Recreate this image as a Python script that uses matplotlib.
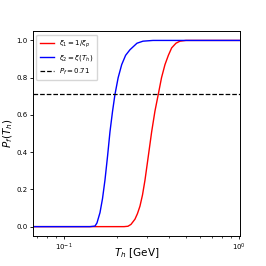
import matplotlib
matplotlib.use("Agg")
import matplotlib.pyplot as plt

# Data
T_blue = [0.0665, 0.1408, 0.1504, 0.1544, 0.1606, 0.1660, 0.1715, 0.1775, 0.1832, 0.1895,
          0.1956, 0.2040, 0.2137, 0.2250, 0.2383, 0.2613, 0.2828, 0.3226, 1.013]
P_blue = [0.0, 0.0, 0.003, 0.02, 0.075, 0.15, 0.25, 0.38, 0.51, 0.62,
          0.71, 0.80, 0.87, 0.92, 0.95, 0.985, 0.996, 1.0, 1.0]

T_red = [0.0665, 0.2203, 0.2321, 0.2415, 0.2545, 0.2630, 0.2718, 0.2810, 0.2904, 0.3035,
         0.3171, 0.3310, 0.3458, 0.3610, 0.3777, 0.3950, 0.4125, 0.4365, 0.4601, 0.4979, 1.013]
P_red = [0.0, 0.0, 0.002, 0.012, 0.04, 0.07, 0.11, 0.17, 0.25, 0.38,
         0.51, 0.62, 0.71, 0.80, 0.87, 0.92, 0.96, 0.985, 0.996, 1.0, 1.0]

P_f = 0.71
labels = [r"$\xi_1 = 1/\xi_p$", r"$\xi_2 = \xi(T_h)$", r"$P_f = 0.71$"]

fig = plt.figure(figsize=(2.66, 2.66), dpi=100)
ax = fig.add_axes([0.124, 0.113, 0.778, 0.770])
ax.plot(T_red, P_red, color="red", lw=1.0, label=labels[0])
ax.plot(T_blue, P_blue, color="blue", lw=1.0, label=labels[1])
ax.axhline(P_f, color="black", ls="--", lw=0.9, label=labels[2])
ax.set_xscale("log")
ax.set_xlim(0.0665, 1.013)
ax.set_ylim(-0.05, 1.05)
ax.set_yticks([0.0, 0.2, 0.4, 0.6, 0.8, 1.0])
ax.tick_params(labelsize=5, length=2.5, width=0.6, pad=1.5)
ax.tick_params(which="minor", length=1.5, width=0.5)
ax.set_xlabel(r"$T_h$ [GeV]", fontsize=7.5)
ax.xaxis.set_label_coords(0.5, -0.05)
ax.set_ylabel(r"$P_f(T_h)$", fontsize=7.5, labelpad=1)
for s in ax.spines.values():
    s.set_linewidth(0.7)
ax.legend(loc="upper left", fontsize=5, handlelength=2.0, borderpad=0.5,
          labelspacing=0.5, framealpha=0.8)
fig.savefig("out.png", dpi=100)
